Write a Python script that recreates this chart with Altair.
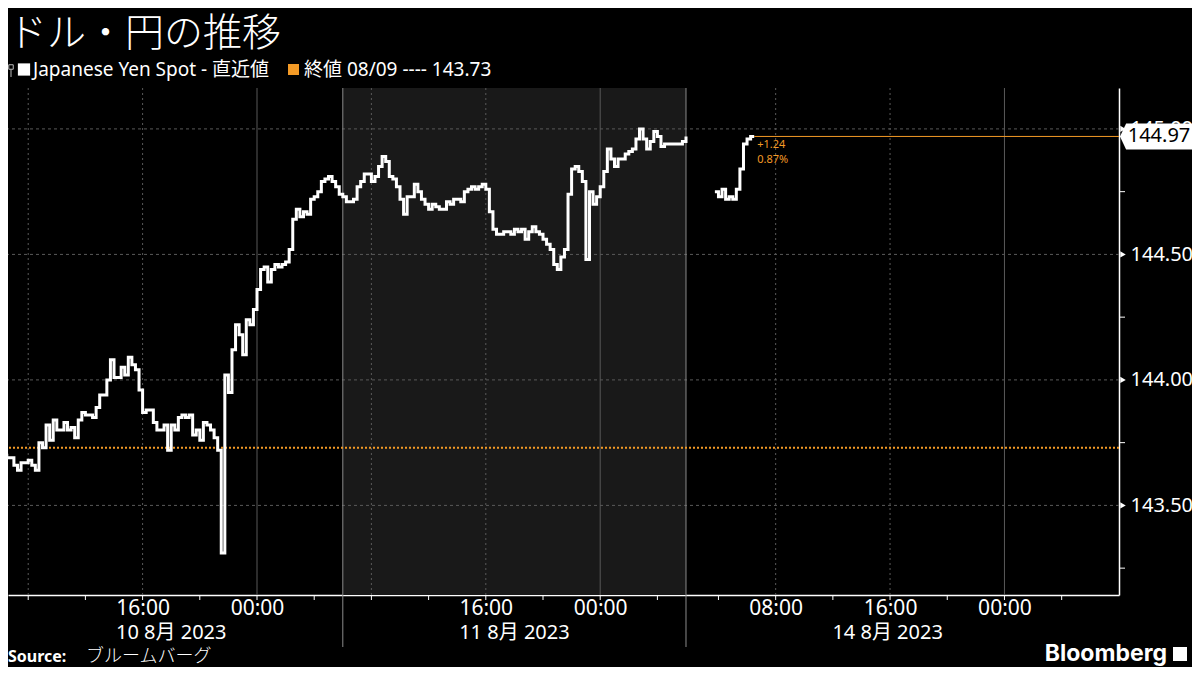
import altair as alt
import pandas as pd

# ---------------- data ----------------
TITLE = "ドル・円の推移"
LEGEND_SERIES = "Japanese Yen Spot - 直近値"
LEGEND_CLOSE = "終値 08/09 ---- 143.73"
SOURCE_LABEL = "Source:"
SOURCE_NAME = "ブルームバーグ"
BRAND = "Bloomberg"

STEP_H = 0.25  # 15-minute bars

# Session Aug 10 06:00 -> Aug 12 06:00 (hours since Aug 10 00:00)
s1_start = 6.0
s1_values = [
    143.70, 143.70, 143.69, 143.69, 143.66, 143.64, 143.67, 143.67, 143.68, 143.66,
    143.64, 143.75, 143.73, 143.82, 143.76, 143.84, 143.80, 143.80, 143.83, 143.80,
    143.81, 143.77, 143.84, 143.87, 143.86, 143.86, 143.85, 143.89, 143.94, 143.94,
    144.00, 144.08, 144.01, 144.01, 144.05, 144.02, 144.09, 144.06, 144.04, 143.96,
    143.87, 143.88, 143.88, 143.83, 143.80, 143.80, 143.82, 143.72, 143.82, 143.80,
    143.85, 143.86, 143.85, 143.86, 143.78, 143.80, 143.76, 143.83, 143.82, 143.80,
    143.77, 143.72, 143.31, 144.02, 143.95, 144.12, 144.22, 144.18, 144.10, 144.24,
    144.22, 144.28, 144.36, 144.44, 144.45, 144.39, 144.44, 144.46, 144.45, 144.46,
    144.47, 144.52, 144.64, 144.68, 144.65, 144.67, 144.66, 144.72, 144.73, 144.75,
    144.79, 144.80, 144.81, 144.79, 144.77, 144.74, 144.73, 144.71, 144.71, 144.72,
    144.77, 144.79, 144.82, 144.82, 144.79, 144.81, 144.85, 144.89, 144.87, 144.81,
    144.80, 144.77, 144.72, 144.66, 144.73, 144.73, 144.78, 144.75, 144.72, 144.70,
    144.68, 144.70, 144.69, 144.68, 144.68, 144.71, 144.70, 144.72, 144.72, 144.71,
    144.75, 144.76, 144.77, 144.76, 144.77, 144.78, 144.76, 144.67, 144.60, 144.58,
    144.58, 144.59, 144.59, 144.58, 144.60, 144.59, 144.60, 144.56, 144.59, 144.61,
    144.59, 144.58, 144.56, 144.54, 144.52, 144.46, 144.44, 144.49, 144.52, 144.74,
    144.84, 144.85, 144.83, 144.79, 144.48, 144.75, 144.70, 144.73, 144.77, 144.83,
    144.92, 144.88, 144.85, 144.88, 144.88, 144.90, 144.91, 144.92, 144.96, 145.00,
    144.96, 144.92, 144.95, 144.99, 144.97, 144.93, 144.94, 144.94, 144.94, 144.94,
    144.94, 144.95, 144.97,
]

# Monday Aug 14 (hours since Aug 14 00:00); weekend removed from the axis
AUG14_AXIS_OFFSET = 52.27   # axis position of Aug 14 00:00
s2_start = 3.75
s2_values = [144.75, 144.73, 144.76, 144.72, 144.73, 144.72, 144.76, 144.84,
             144.94, 144.96, 144.97, 144.97]

prev_close = 143.73
last_value = 144.97
change_text = "+1.24\n0.87%"

# axis (hours on the compressed axis)
x_domain = [6.587, 84.28]
y_domain = [143.143, 145.163]
x_label_vals = [16, 24, 40, 48, 60.27, 68.27, 76.27]
x_label_text = ["16:00", "00:00", "16:00", "00:00", "08:00", "16:00", "00:00"]
x_minor_ticks = [8, 12, 16, 20, 24, 28, 32, 36, 40, 44, 48, 52,
                 56.27, 60.27, 64.27, 68.27, 72.27, 76.27, 80.27]
grid_dotted = [8, 16, 32, 40, 60.27, 68.27]
grid_midnight = [24, 48, 76.27]
session_breaks = [30, 54]
shade_from, shade_to = 30, 54
date_pos = [18, 42, 68.1]
date_text = ["10 8月 2023", "11 8月 2023", "14 8月 2023"]
y_major = [143.5, 144.0, 144.5, 145.0]
y_minor = [143.25, 143.75, 144.25, 144.75]

# ---------------- build ----------------
W, H = 1111, 507
WHITE = "#ffffff"
ORANGE = "#f39a26"
GRID = "#5a5a5a"
LAT = "Noto Sans, Noto Sans CJK JP"
JP = "Noto Sans CJK JP"

df1 = pd.DataFrame({"u": [s1_start + i * STEP_H for i in range(len(s1_values))],
                    "v": s1_values, "seg": "s1"})
df2 = pd.DataFrame({"u": [AUG14_AXIS_OFFSET + s2_start + i * STEP_H for i in range(len(s2_values))],
                    "v": s2_values, "seg": "s2"})
line_df = pd.concat([df1, df2], ignore_index=True)
last_u = float(df2["u"].iloc[-1])

label_expr = f"{x_label_text}[indexof({x_label_vals}, datum.value)]"

XSCALE = alt.Scale(domain=x_domain, nice=False, zero=False)
YSCALE = alt.Scale(domain=y_domain, nice=False, zero=False)
XAXIS = alt.Axis(values=x_label_vals, labelExpr=label_expr, labelColor=WHITE,
                 labelFont=LAT, labelFontSize=21, tickSize=0, labelPadding=13,
                 labelBaseline="middle", domainColor=WHITE, domainWidth=1.5,
                 grid=False, labelFlush=False, labelOverlap=False, zindex=0)
YAXIS = alt.Axis(orient="right", values=y_major, format=".2f", labelColor=WHITE,
                 labelFont=LAT, labelFontSize=20, tickSize=0, labelPadding=11,
                 domainColor=WHITE, domainWidth=1.5, grid=False, zindex=0)


def X(f):
    return alt.X(f"{f}:Q", scale=XSCALE, axis=XAXIS, title="")


def Y(f):
    return alt.Y(f"{f}:Q", scale=YSCALE, axis=YAXIS, title="")


def one(**kw):
    return pd.DataFrame({k: [v] for k, v in kw.items()})


shade = alt.Chart(one(u=shade_from, u2=shade_to)).mark_rect(color="#191919").encode(
    x=X("u"), x2="u2", y=alt.value(0), y2=alt.value(H))

hgrid = alt.Chart(pd.DataFrame({"v": y_major})).mark_rule(
    color=GRID, strokeDash=[3, 3], strokeWidth=1).encode(y=Y("v"))

vgrid_dot = alt.Chart(pd.DataFrame({"u": grid_dotted})).mark_rule(
    color=GRID, strokeDash=[2, 3], strokeWidth=1).encode(
    x=X("u"), y=alt.value(0), y2=alt.value(H))

vgrid_mid = alt.Chart(pd.DataFrame({"u": grid_midnight})).mark_rule(
    color="#595959", strokeWidth=1).encode(x=X("u"), y=alt.value(0), y2=alt.value(H))

breaks = alt.Chart(pd.DataFrame({"u": session_breaks})).mark_rule(
    color="#8a8a8a", strokeWidth=1).encode(x=X("u"), y=alt.value(0), y2=alt.value(H + 52))

xticks = alt.Chart(pd.DataFrame({"u": x_minor_ticks})).mark_rule(
    color=WHITE, strokeWidth=1).encode(x=X("u"), y=alt.value(H), y2=alt.value(H + 5))

close_rule = alt.Chart(one(v=prev_close)).mark_rule(
    color=ORANGE, strokeDash=[2, 2], strokeWidth=2).encode(y=Y("v"))

line = alt.Chart(line_df).mark_line(
    color=WHITE, strokeWidth=3, interpolate="step-after", clip=True).encode(
    x=X("u"), y=Y("v"), detail="seg:N")

last_rule = alt.Chart(one(u=last_u, v=last_value)).mark_rule(
    color=ORANGE, strokeWidth=1).encode(x=X("u"), x2=alt.value(W), y=Y("v"))

change = alt.Chart(one(u=last_u, v=last_value, t=change_text)).mark_text(
    align="left", baseline="top", color=ORANGE, fontSize=11, font=LAT,
    lineBreak="\n", lineHeight=15, dx=3, dy=3).encode(x=X("u"), y=Y("v"), text="t:N")

yminor = alt.Chart(pd.DataFrame({"v": y_minor})).mark_rule(
    color=WHITE, strokeWidth=1).encode(y=Y("v"), x=alt.value(W), x2=alt.value(W + 6))

ymajor = alt.Chart(pd.DataFrame({"v": y_major})).mark_point(
    shape="triangle-right", filled=True, size=40, color=WHITE, opacity=1).encode(
    y=Y("v"), x=alt.value(W + 4))

box_path = "M-1,0L-0.83,-0.36L1,-0.36L1,0.36L-0.83,0.36Z"
vbox = alt.Chart(one(v=last_value)).mark_point(
    shape=box_path, filled=True, size=72 * 72, color=WHITE, opacity=1).encode(
    y=Y("v"), x=alt.value(W + 37))
vtext = alt.Chart(one(v=last_value, t=f"{last_value:.2f}")).mark_text(
    color="#000000", fontSize=20, font=LAT, align="center", baseline="middle").encode(
    y=Y("v"), x=alt.value(W + 40), text="t:N")

dates = alt.Chart(pd.DataFrame({"u": date_pos, "t": date_text})).mark_text(
    color=WHITE, fontSize=20, font=LAT, align="center", baseline="middle").encode(
    x=X("u"), y=alt.value(H + 38), text="t:N")

title = alt.Chart(one(t=TITLE)).mark_text(
    color=WHITE, fontSize=39, font=JP, fontWeight=300, align="left", baseline="middle").encode(
    x=alt.value(0), y=alt.value(-54), text="t:N")

icon = alt.Chart(one(a=1)).mark_point(
    shape="square", filled=False, size=20, color="#bbbbbb", strokeWidth=1, opacity=1).encode(
    x=alt.value(3), y=alt.value(-21))
icon_stem = alt.Chart(one(a=1)).mark_rule(color="#bbbbbb", strokeWidth=1).encode(
    x=alt.value(3), y=alt.value(-18.5), y2=alt.value(-11))
sq_white = alt.Chart(one(a=1)).mark_point(
    shape="square", filled=True, size=150, color=WHITE, opacity=1).encode(
    x=alt.value(16), y=alt.value(-18.5))
leg1 = alt.Chart(one(t=LEGEND_SERIES)).mark_text(
    color=WHITE, fontSize=19, font=LAT, align="left", baseline="middle").encode(
    x=alt.value(25), y=alt.value(-18), text="t:N")
sq_orange = alt.Chart(one(a=1)).mark_point(
    shape="square", filled=True, size=121, color=ORANGE, opacity=1).encode(
    x=alt.value(285.5), y=alt.value(-18.5))
leg2 = alt.Chart(one(t=LEGEND_CLOSE)).mark_text(
    color=WHITE, fontSize=19, font=LAT, align="left", baseline="middle").encode(
    x=alt.value(296), y=alt.value(-18), text="t:N")

src1 = alt.Chart(one(t=SOURCE_LABEL)).mark_text(
    color=WHITE, fontSize=16, font=LAT, fontWeight="bold", align="left", baseline="middle").encode(
    x=alt.value(0), y=alt.value(569), text="t:N")
src2 = alt.Chart(one(t=SOURCE_NAME)).mark_text(
    color=WHITE, fontSize=18, font=JP, fontWeight=300, align="left", baseline="middle").encode(
    x=alt.value(78), y=alt.value(569), text="t:N")
brand = alt.Chart(one(t=BRAND)).mark_text(
    color=WHITE, fontSize=23, font="Inter, Noto Sans", fontWeight="bold", align="right",
    baseline="middle").encode(x=alt.value(1159), y=alt.value(566), text="t:N")
brand_icon = alt.Chart(one(a=1)).mark_point(
    shape="square", filled=True, size=196, color=WHITE, opacity=1).encode(
    x=alt.value(1172), y=alt.value(566))

chart = alt.layer(
    shade, hgrid, vgrid_dot, vgrid_mid, breaks, xticks, close_rule, line, last_rule,
    change, yminor, ymajor, vbox, vtext, dates, title, icon, icon_stem, sq_white, leg1,
    sq_orange, leg2, src1, src2, brand, brand_icon,
).properties(
    width=W, height=H,
    padding={"left": 0, "top": 80, "right": 73, "bottom": 72},
    autosize=alt.AutoSizeParams(type="none"),
    background="#000000",
).configure_view(strokeWidth=0)

chart.save("out.html", embed_options={"renderer": "svg", "actions": False})
